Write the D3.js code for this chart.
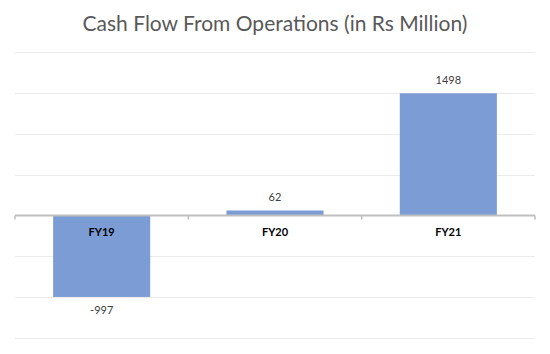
<!DOCTYPE html>
<html>
<head>
<meta charset="utf-8">
<script src="https://cdn.jsdelivr.net/npm/d3@7"></script>
<style>
  body { margin: 0; background: #fff; }
  text { font-family: Lato, "Open Sans", sans-serif; }
</style>
</head>
<body>
<div id="chart"></div>
<script>
// chart data
const categories = ["FY19", "FY20", "FY21"]
const values = [-997, 62, 1498]
const yTicks = [-1500, -1000, -500, 0, 500, 1000, 1500, 2000]

const width = 550
const height = 354
const svg = d3.select("#chart")
    .append("svg")
    .attr("width", width)
    .attr("height", height)

const x = d3.scaleBand()
    .domain(categories)
    .range([15, 535])
    .paddingInner(0.44)
    .paddingOuter(0.22)

const y = d3.scaleLinear()
    .domain([-1500, 2000])
    .range([338, 52.3])

// title
svg.append("text")
    .attr("x", width / 2)
    .attr("y", 31)
    .attr("text-anchor", "middle")
    .attr("fill", "#595959")
    .style("font-size", "21px")
    .text("Cash Flow From Operations (in Rs Million)")

// gridlines
svg.append("g")
    .selectAll("line")
    .data(yTicks.filter(d => d !== 0))
    .join("line")
    .attr("x1", 15)
    .attr("x2", 535)
    .attr("y1", d => Math.round(y(d)) + 0.5)
    .attr("y2", d => Math.round(y(d)) + 0.5)
    .attr("stroke", "#ebebeb")
    .attr("stroke-width", 1)

// bars
svg.append("g")
    .selectAll("rect")
    .data(values)
    .join("rect")
    .attr("x", (d, i) => x(categories[i]))
    .attr("width", x.bandwidth())
    .attr("y", d => y(Math.max(0, d)))
    .attr("height", d => Math.abs(y(d) - y(0)))
    .attr("fill", "#7b9cd5")

// zero axis line with tick marks between categories
const axis = svg.append("g")
    .attr("transform", "translate(0," + y(0) + ")")
axis.append("line")
    .attr("x1", 15)
    .attr("x2", 535)
    .attr("stroke", "#bfbfbf")
    .attr("stroke-width", 2)
const tickX = [15].concat(categories.map(c => x(c) + x.bandwidth() + x.step() * x.paddingInner() / 2))
tickX[tickX.length - 1] = 535
axis.selectAll(".tk")
    .data(tickX)
    .join("line")
    .attr("class", "tk")
    .attr("x1", d => d)
    .attr("x2", d => d)
    .attr("y1", 0)
    .attr("y2", 4)
    .attr("stroke", "#bfbfbf")
    .attr("stroke-width", 1.5)

// category labels
svg.append("g")
    .selectAll("text")
    .data(categories)
    .join("text")
    .attr("x", d => x(d) + x.bandwidth() / 2)
    .attr("y", y(0) + 20)
    .attr("text-anchor", "middle")
    .attr("fill", "#000")
    .style("font-size", "11px")
    .style("font-weight", "bold")
    .text(d => d)

// value labels
svg.append("g")
    .selectAll("text")
    .data(values)
    .join("text")
    .attr("x", (d, i) => x(categories[i]) + x.bandwidth() / 2)
    .attr("y", d => d >= 0 ? y(d) - 9 : y(d) + 17)
    .attr("text-anchor", "middle")
    .attr("fill", "#404040")
    .style("font-size", "11px")
    .text(d => d)
</script>
</body>
</html>
